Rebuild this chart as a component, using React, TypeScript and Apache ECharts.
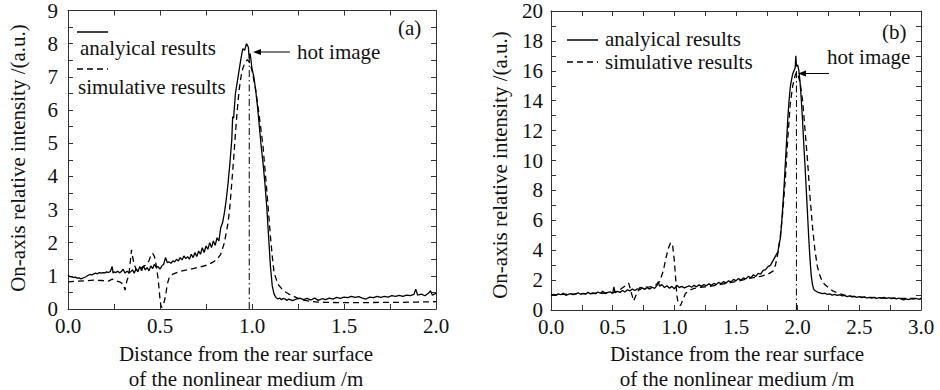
import React, { useEffect, useRef } from "react";
import * as echarts from "echarts";

const FONT = '"Liberation Serif", "Times New Roman", serif';

// Panel (a): x in m, y in a.u.
const aAnalytical: [number, number][] = [
  [0.0, 1.02], [0.01, 0.98], [0.02, 0.97], [0.03, 0.95], [0.04, 0.96], [0.05, 0.93], [0.06, 0.94], [0.07, 0.91],
  [0.08, 0.93], [0.09, 0.95], [0.1, 0.98], [0.11, 1.02], [0.12, 1.04], [0.13, 1.03], [0.14, 1.06], [0.15, 1.08],
  [0.16, 1.06], [0.17, 1.1], [0.18, 1.08], [0.19, 1.1], [0.2, 1.09], [0.21, 1.12], [0.22, 1.1], [0.23, 1.13],
  [0.24, 1.28], [0.245, 1.08], [0.25, 1.12], [0.26, 1.1], [0.27, 1.14], [0.28, 1.09], [0.29, 1.13], [0.3, 1.2],
  [0.31, 1.08], [0.32, 1.14], [0.33, 1.1], [0.34, 1.12], [0.35, 1.18], [0.36, 1.08], [0.37, 1.22], [0.38, 1.12],
  [0.39, 1.28], [0.4, 1.15], [0.41, 1.3], [0.42, 1.18], [0.43, 1.25], [0.44, 1.15], [0.45, 1.3], [0.46, 1.22],
  [0.47, 1.35], [0.48, 1.25], [0.49, 1.28], [0.5, 1.2], [0.51, 1.3], [0.52, 1.35], [0.53, 1.55], [0.54, 1.4],
  [0.55, 1.42], [0.56, 1.38], [0.57, 1.45], [0.58, 1.42], [0.59, 1.5], [0.6, 1.45], [0.61, 1.55], [0.62, 1.48],
  [0.63, 1.6], [0.64, 1.52], [0.65, 1.58], [0.66, 1.5], [0.67, 1.65], [0.68, 1.55], [0.69, 1.7], [0.7, 1.58],
  [0.71, 1.75], [0.72, 1.65], [0.73, 1.85], [0.74, 1.7], [0.75, 1.9], [0.76, 1.8], [0.77, 2.0], [0.78, 1.85],
  [0.79, 2.05], [0.8, 1.92], [0.81, 2.15], [0.82, 2.05], [0.83, 2.45], [0.84, 2.6], [0.85, 2.9], [0.86, 3.3],
  [0.87, 3.8], [0.88, 4.4], [0.89, 5.1], [0.895, 5.8], [0.9, 5.75], [0.91, 6.5], [0.92, 6.85], [0.93, 7.2],
  [0.94, 7.55], [0.95, 7.85], [0.96, 7.8], [0.97, 8.0], [0.98, 7.9], [0.985, 7.55], [0.99, 7.7], [1.0, 7.25],
  [1.01, 7.0], [1.02, 6.6], [1.03, 6.1], [1.04, 5.5], [1.05, 4.9], [1.06, 4.4], [1.07, 3.8], [1.08, 3.1],
  [1.09, 2.2], [1.1, 1.3], [1.11, 0.7], [1.12, 0.45], [1.13, 0.35], [1.14, 0.3], [1.15, 0.33], [1.16, 0.28],
  [1.17, 0.32], [1.18, 0.3], [1.19, 0.26], [1.2, 0.3], [1.22, 0.25], [1.24, 0.3], [1.26, 0.33], [1.28, 0.28],
  [1.3, 0.32], [1.32, 0.27], [1.34, 0.33], [1.36, 0.26], [1.38, 0.31], [1.4, 0.28], [1.42, 0.33], [1.44, 0.3],
  [1.46, 0.35], [1.48, 0.32], [1.5, 0.36], [1.52, 0.34], [1.54, 0.38], [1.56, 0.35], [1.58, 0.37], [1.6, 0.33],
  [1.62, 0.3], [1.64, 0.36], [1.66, 0.34], [1.68, 0.38], [1.7, 0.35], [1.72, 0.38], [1.74, 0.36], [1.76, 0.4],
  [1.78, 0.38], [1.8, 0.41], [1.82, 0.38], [1.84, 0.42], [1.86, 0.4], [1.88, 0.44], [1.89, 0.6], [1.9, 0.42],
  [1.92, 0.45], [1.94, 0.4], [1.96, 0.48], [1.97, 0.55], [1.98, 0.42], [2.0, 0.47],
];

const aSimulative: [number, number][] = [
  [0.0, 0.82], [0.05, 0.84], [0.1, 0.85], [0.14, 0.87], [0.18, 0.86], [0.22, 0.84], [0.24, 0.9], [0.26, 0.85],
  [0.28, 0.82], [0.3, 0.75], [0.31, 0.57], [0.32, 0.85], [0.33, 1.0], [0.34, 1.5], [0.345, 1.78], [0.35, 1.6],
  [0.36, 1.35], [0.37, 1.2], [0.38, 1.15], [0.39, 1.18], [0.4, 1.25], [0.42, 1.32], [0.44, 1.45], [0.45, 1.62],
  [0.46, 1.68], [0.47, 1.58], [0.48, 1.3], [0.49, 0.9], [0.5, 0.3], [0.505, 0.1], [0.51, 0.05], [0.52, 0.15],
  [0.53, 0.4], [0.54, 0.75], [0.55, 0.95], [0.57, 1.05], [0.6, 1.12], [0.64, 1.17], [0.68, 1.22], [0.72, 1.27],
  [0.76, 1.33], [0.79, 1.42], [0.81, 1.5], [0.83, 1.65], [0.85, 2.0], [0.87, 2.6], [0.88, 3.1], [0.89, 3.8],
  [0.9, 4.5], [0.91, 5.3], [0.92, 6.0], [0.93, 6.6], [0.94, 7.0], [0.95, 7.25], [0.96, 7.4], [0.975, 7.52],
  [0.985, 7.45], [1.0, 7.2], [1.02, 6.6], [1.04, 5.8], [1.06, 4.9], [1.08, 3.6], [1.1, 2.2], [1.11, 1.6],
  [1.12, 1.1], [1.14, 0.75], [1.16, 0.62], [1.18, 0.52], [1.2, 0.45], [1.22, 0.4], [1.25, 0.32], [1.28, 0.27],
  [1.32, 0.23], [1.36, 0.21], [1.4, 0.2], [1.5, 0.19], [1.6, 0.19], [1.7, 0.2], [1.8, 0.2], [1.9, 0.21], [2.0, 0.22],
];

const aHotImage: [number, number][] = [[0.985, 0], [0.985, 7.55]];

// Panel (b)
const bAnalytical: [number, number][] = [
  [0.0, 1.0], [0.02, 1.05], [0.04, 0.98], [0.06, 1.08], [0.08, 1.02], [0.1, 1.12], [0.12, 0.98], [0.14, 1.05],
  [0.16, 1.1], [0.18, 1.02], [0.2, 1.08], [0.22, 1.15], [0.24, 1.05], [0.26, 1.12], [0.28, 1.06], [0.3, 1.18],
  [0.32, 1.08], [0.34, 1.15], [0.36, 1.1], [0.38, 1.2], [0.4, 1.12], [0.42, 1.25], [0.44, 1.1], [0.46, 1.18],
  [0.48, 1.22], [0.5, 1.12], [0.51, 1.55], [0.52, 1.15], [0.54, 1.25], [0.56, 1.18], [0.58, 1.3], [0.6, 1.2],
  [0.62, 1.35], [0.64, 1.28], [0.66, 1.4], [0.68, 1.3], [0.7, 1.42], [0.72, 1.35], [0.74, 1.48], [0.76, 1.38],
  [0.78, 1.5], [0.8, 1.4], [0.82, 1.52], [0.84, 1.45], [0.86, 1.65], [0.87, 1.9], [0.88, 1.6], [0.9, 1.7],
  [0.92, 1.5], [0.94, 1.62], [0.96, 1.45], [0.98, 1.58], [1.0, 1.42], [1.02, 1.65], [1.04, 1.5], [1.06, 1.58],
  [1.08, 1.48], [1.1, 1.55], [1.12, 1.62], [1.14, 1.52], [1.16, 1.65], [1.18, 1.55], [1.2, 1.68], [1.22, 1.58],
  [1.24, 1.7], [1.26, 1.62], [1.28, 1.75], [1.3, 1.65], [1.32, 1.78], [1.34, 1.7], [1.36, 1.85], [1.38, 1.75],
  [1.4, 1.9], [1.42, 1.8], [1.44, 1.95], [1.46, 1.88], [1.48, 2.05], [1.5, 1.95], [1.52, 2.1], [1.54, 2.0],
  [1.56, 2.15], [1.58, 2.08], [1.6, 2.25], [1.62, 2.15], [1.64, 2.35], [1.66, 2.25], [1.68, 2.45], [1.7, 2.4],
  [1.72, 2.65], [1.74, 2.7], [1.76, 2.9], [1.78, 3.0], [1.8, 3.3], [1.82, 3.6], [1.84, 3.9], [1.85, 4.4],
  [1.86, 4.8], [1.87, 5.8], [1.88, 7.0], [1.89, 8.3], [1.9, 9.8], [1.91, 11.3], [1.92, 12.8], [1.93, 14.0],
  [1.94, 14.9], [1.95, 15.4], [1.96, 15.8], [1.97, 16.0], [1.98, 16.2], [1.985, 17.0], [1.99, 16.3], [2.0, 16.4],
  [2.01, 16.0], [2.02, 15.2], [2.03, 14.0], [2.04, 12.6], [2.05, 11.0], [2.06, 9.6], [2.07, 8.0], [2.08, 6.4],
  [2.09, 4.8], [2.1, 3.4], [2.11, 2.3], [2.12, 1.7], [2.13, 1.4], [2.14, 1.3], [2.16, 1.2], [2.18, 1.15],
  [2.2, 1.1], [2.22, 1.12], [2.24, 1.05], [2.26, 1.08], [2.28, 1.0], [2.3, 1.05], [2.32, 0.98], [2.34, 1.02],
  [2.36, 0.95], [2.38, 0.98], [2.4, 0.9], [2.42, 0.95], [2.44, 0.88], [2.46, 0.92], [2.48, 0.85], [2.5, 0.9],
  [2.52, 0.82], [2.54, 0.88], [2.56, 0.8], [2.58, 0.85], [2.6, 0.8], [2.62, 0.84], [2.64, 0.78], [2.66, 0.83],
  [2.68, 0.8], [2.7, 0.85], [2.72, 0.78], [2.74, 0.82], [2.76, 0.76], [2.78, 0.8], [2.8, 0.75], [2.82, 0.8],
  [2.84, 0.72], [2.86, 0.68], [2.88, 0.74], [2.9, 0.7], [2.92, 0.76], [2.94, 0.72], [2.96, 0.78], [2.98, 0.72],
  [3.0, 0.75],
];

const bSimulative: [number, number][] = [
  [0.0, 1.0], [0.1, 1.05], [0.2, 1.08], [0.3, 1.1], [0.4, 1.12], [0.5, 1.15], [0.55, 1.3], [0.6, 1.6],
  [0.63, 1.8], [0.65, 1.2], [0.67, 0.6], [0.69, 1.0], [0.72, 1.5], [0.76, 1.52], [0.8, 1.55], [0.84, 1.6],
  [0.88, 1.9], [0.91, 2.6], [0.93, 3.4], [0.95, 4.1], [0.97, 4.5], [0.985, 4.4], [1.0, 3.3], [1.01, 2.2],
  [1.02, 1.0], [1.03, 0.5], [1.05, 0.3], [1.07, 0.7], [1.09, 1.1], [1.12, 1.3], [1.16, 1.45], [1.2, 1.5],
  [1.3, 1.6], [1.4, 1.75], [1.5, 1.9], [1.6, 2.1], [1.7, 2.25], [1.76, 2.4], [1.8, 2.6], [1.82, 3.0],
  [1.84, 3.8], [1.85, 4.4], [1.86, 5.0], [1.88, 6.6], [1.9, 8.8], [1.92, 11.5], [1.94, 13.8], [1.96, 15.0],
  [1.98, 15.7], [1.99, 15.9], [2.0, 15.8], [2.02, 15.2], [2.04, 14.0], [2.06, 12.0], [2.08, 10.0], [2.1, 7.6],
  [2.12, 5.6], [2.14, 4.0], [2.16, 2.9], [2.18, 2.3], [2.2, 1.9], [2.22, 1.7], [2.25, 1.5], [2.28, 1.3],
  [2.32, 1.15], [2.38, 1.0], [2.45, 0.9], [2.55, 0.85], [2.7, 0.8], [2.85, 0.78], [3.0, 0.78],
];

const bHotImage: [number, number][] = [[1.99, 0], [1.99, 16.0]];

const legendLabels = ["analyical results", "simulative results"];
const xTitle = "Distance from the rear surface\nof the nonlinear medium /m";
const yTitle = "On-axis relative intensity /(a.u.)";

const AXIS_COLOR = "#333";
const TEXT_COLOR = "#111";

function xAxes(grid: number, max: number) {
  const base = {
    type: "value" as const,
    gridIndex: grid,
    min: 0,
    max,
    interval: 0.5,
    axisLine: { show: true, onZero: false, lineStyle: { color: AXIS_COLOR, width: 1 } },
    axisTick: { show: true, inside: true, length: 5, lineStyle: { color: AXIS_COLOR } },
    minorTick: { show: true, splitNumber: 2, length: 5, lineStyle: { color: AXIS_COLOR } },
    splitLine: { show: false },
  };
  return [
    {
      ...base,
      position: "bottom",
      axisLabel: {
        show: true,
        margin: 6,
        fontFamily: FONT,
        fontSize: 21,
        color: TEXT_COLOR,
        formatter: (v: number) => v.toFixed(1),
      },
    },
    { ...base, position: "top", axisLabel: { show: false } },
  ];
}

function yAxes(grid: number, max: number, interval: number, margin: number) {
  const base = {
    type: "value" as const,
    gridIndex: grid,
    min: 0,
    max,
    interval,
    axisLine: { show: true, onZero: false, lineStyle: { color: AXIS_COLOR, width: 1 } },
    axisTick: { show: true, inside: true, length: 5, lineStyle: { color: AXIS_COLOR } },
    minorTick: { show: true, splitNumber: 2, length: 5, lineStyle: { color: AXIS_COLOR } },
    splitLine: { show: false },
  };
  return [
    {
      ...base,
      position: "left",
      axisLabel: { show: true, margin, fontFamily: FONT, fontSize: 21, color: TEXT_COLOR },
    },
    { ...base, position: "right", axisLabel: { show: false } },
  ];
}

function txt(x: number, y: number, text: string, extra: any = {}) {
  return {
    type: "text",
    x,
    y,
    style: {
      text,
      fontFamily: FONT,
      fontSize: 21,
      fill: TEXT_COLOR,
      textVerticalAlign: "middle",
      ...extra,
    },
  };
}

function hline(x1: number, x2: number, y: number, dash?: number[]) {
  return {
    type: "line",
    shape: { x1, y1: y, x2, y2: y },
    style: { stroke: "#000", lineWidth: 1.5, lineDash: dash },
  };
}

function arrowLeft(tipX: number, tailX: number, y: number) {
  return [
    { type: "line", shape: { x1: tipX + 4, y1: y, x2: tailX, y2: y }, style: { stroke: "#000", lineWidth: 1 } },
    {
      type: "polygon",
      shape: { points: [[tipX, y], [tipX + 8, y - 3], [tipX + 8, y + 3]] },
      style: { fill: "#000" },
    },
  ];
}

export default function App() {
  const ref = useRef<HTMLDivElement>(null);

  useEffect(() => {
    if (!ref.current) return;
    const chart = echarts.init(ref.current, undefined, { renderer: "svg" });
    const lineBase = { type: "line", symbol: "none", showSymbol: false, silent: true };

    chart.setOption({
      animation: false,
      backgroundColor: "#fff",
      grid: [
        { left: 68, top: 9, width: 368, height: 300 },
        { left: 551, top: 11, width: 370, height: 299 },
      ],
      xAxis: [...xAxes(0, 2), ...xAxes(1, 3)],
      yAxis: [...yAxes(0, 9, 1, 10), ...yAxes(1, 20, 2, 8)],
      series: [
        { ...lineBase, name: legendLabels[0], xAxisIndex: 0, yAxisIndex: 0, data: aAnalytical, lineStyle: { color: "#000", width: 1.3 } },
        { ...lineBase, name: legendLabels[1], xAxisIndex: 0, yAxisIndex: 0, data: aSimulative, lineStyle: { color: "#000", width: 1.3, type: [6, 4] } },
        { ...lineBase, name: "hot-a", xAxisIndex: 0, yAxisIndex: 0, data: aHotImage, lineStyle: { color: "#000", width: 1, type: [7, 3, 1.5, 3] } },
        { ...lineBase, name: legendLabels[0], xAxisIndex: 2, yAxisIndex: 2, data: bAnalytical, lineStyle: { color: "#000", width: 1.3 } },
        { ...lineBase, name: legendLabels[1], xAxisIndex: 2, yAxisIndex: 2, data: bSimulative, lineStyle: { color: "#000", width: 1.3, type: [6, 4] } },
        { ...lineBase, name: "hot-b", xAxisIndex: 2, yAxisIndex: 2, data: bHotImage, lineStyle: { color: "#000", width: 1, type: [7, 3, 1.5, 3] } },
      ],
      graphic: [
        // panel (a) legend
        hline(77, 108, 32),
        txt(80, 48, legendLabels[0]),
        hline(77, 108, 69, [6, 4]),
        txt(78, 87, legendLabels[1]),
        txt(398, 28, "(a)"),
        txt(297, 52, "hot image"),
        ...arrowLeft(253, 290, 52),
        // panel (b) legend
        hline(567, 598, 40),
        txt(605, 39, legendLabels[0]),
        hline(567, 598, 62, [6, 4]),
        txt(605, 62, legendLabels[1]),
        txt(882, 32, "(b)"),
        txt(827, 57, "hot image"),
        ...arrowLeft(798, 829, 73.5),
        // axis titles
        txt(246, 366, xTitle, { textAlign: "center", lineHeight: 25 }),
        txt(737, 366, xTitle, { textAlign: "center", lineHeight: 25 }),
        {
          type: "text",
          x: 18,
          y: 158,
          rotation: Math.PI / 2,
          style: { text: yTitle, fontFamily: FONT, fontSize: 21, fill: TEXT_COLOR, textAlign: "center", textVerticalAlign: "middle" },
        },
        {
          type: "text",
          x: 500,
          y: 165,
          rotation: Math.PI / 2,
          style: { text: yTitle, fontFamily: FONT, fontSize: 21, fill: TEXT_COLOR, textAlign: "center", textVerticalAlign: "middle" },
        },
      ],
    });

    return () => chart.dispose();
  }, []);

  return <div ref={ref} style={{ position: "fixed", left: 0, top: 0, width: 940, height: 390 }} />;
}
